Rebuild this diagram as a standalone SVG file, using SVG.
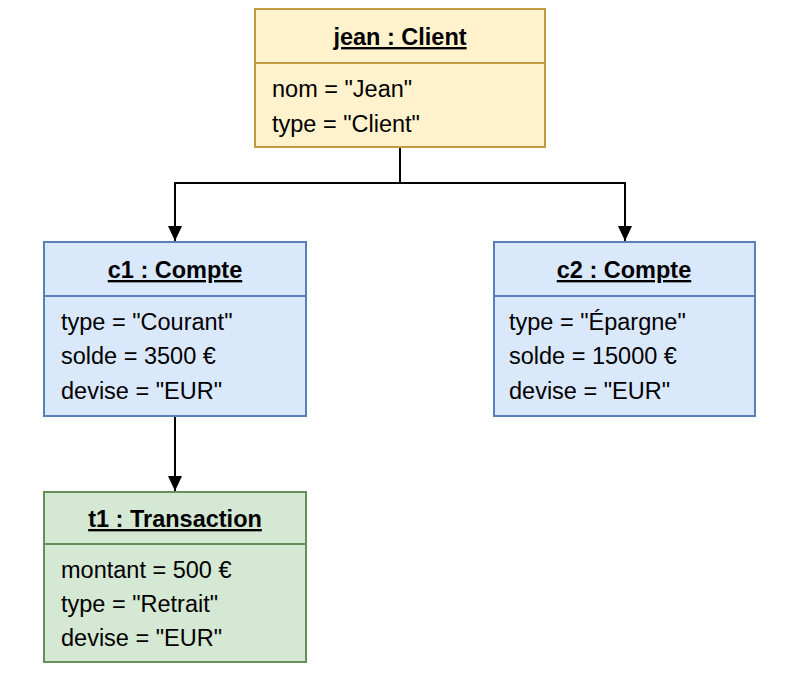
<svg xmlns="http://www.w3.org/2000/svg" width="800" height="673" viewBox="0 0 800 673">
<defs>
<marker id="arr" viewBox="0 0 10 10" refX="10" refY="5" markerWidth="15" markerHeight="14" markerUnits="userSpaceOnUse" orient="auto" preserveAspectRatio="none"><path d="M0,0 L10,5 L0,10 z" fill="#000"/></marker>
<style>
.t{font-family:"Liberation Sans",Arial,sans-serif;font-size:23.5px;fill:#000}
.h{font-weight:bold;text-decoration:underline;text-anchor:middle}
.y{fill:#fff2cc;stroke:#c09a3e;stroke-width:2}
.b{fill:#dae8fc;stroke:#5a80b8;stroke-width:2}
.g{fill:#d5e8d4;stroke:#66905a;stroke-width:2}
.c{fill:none;stroke:#000;stroke-width:2}
</style>
</defs>
<rect width="800" height="673" fill="#fff"/>
<g id="connectors">
<path class="c" d="M400,147 V183 H175 V241" marker-end="url(#arr)"/>
<path class="c" d="M400,183 H625 V241" marker-end="url(#arr)"/>
<path class="c" d="M175,416 V491" marker-end="url(#arr)"/>
</g>
<g id="jean">
<rect class="y" x="255" y="9" width="290" height="138"/>
<line class="y" x1="255" y1="63" x2="545" y2="63"/>
<text class="t h" x="400" y="45">jean : Client</text>
<text class="t" x="272" y="97">nom = "Jean"</text>
<text class="t" x="272" y="132">type = "Client"</text>
</g>
<g id="c1">
<rect class="b" x="44" y="242" width="262" height="174"/>
<line class="b" x1="44" y1="296" x2="306" y2="296"/>
<text class="t h" x="175" y="278">c1 : Compte</text>
<text class="t" x="61" y="330">type = "Courant"</text>
<text class="t" x="61" y="364">solde = 3500 €</text>
<text class="t" x="61" y="399">devise = "EUR"</text>
</g>
<g id="c2">
<rect class="b" x="494" y="242" width="261" height="174"/>
<line class="b" x1="494" y1="296" x2="755" y2="296"/>
<text class="t h" x="624" y="278">c2 : Compte</text>
<text class="t" x="509" y="330">type = "Épargne"</text>
<text class="t" x="509" y="364">solde = 15000 €</text>
<text class="t" x="509" y="399">devise = "EUR"</text>
</g>
<g id="t1">
<rect class="g" x="44" y="492" width="262" height="170"/>
<line class="g" x1="44" y1="544" x2="306" y2="544"/>
<text class="t h" x="175" y="527">t1 : Transaction</text>
<text class="t" x="61" y="578">montant = 500 €</text>
<text class="t" x="61" y="612">type = "Retrait"</text>
<text class="t" x="61" y="646">devise = "EUR"</text>
</g>
</svg>
